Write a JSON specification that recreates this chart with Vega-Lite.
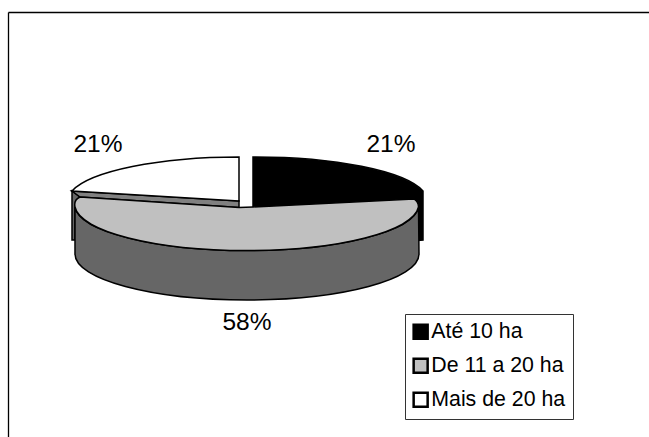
{
"$schema":"https://vega.github.io/schema/vega-lite/v6.json",
"width":641,"height":425,
"autosize":{"type":"none"},
"padding":{"left":8,"top":12,"right":0,"bottom":0},
"background":"white",
"config":{"view":{"stroke":null},"font":"Liberation Sans"},
"data":{"values":[
{"classe":"Até 10 ha","share":0.21},
{"classe":"De 11 a 20 ha","share":0.58},
{"classe":"Mais de 20 ha","share":0.21}
]},
"encoding":{
"x":{"datum":246.5,"type":"quantitative","scale":{"domain":[8,649],"nice":false,"zero":false},"axis":{"orient":"top","labels":false,"ticks":false,"grid":false,"title":null,"domainColor":"black","domainWidth":1.3}},
"y":{"datum":207,"type":"quantitative","scale":{"domain":[12,437],"reverse":true,"nice":false,"zero":false},"axis":{"orient":"left","labels":false,"ticks":false,"grid":false,"title":null,"domainColor":"black","domainWidth":1.3}}
},
"layer":[
{"transform":[{"filter":"datum.classe==='Mais de 20 ha'"}],
 "mark":{"type":"point","filled":true,"size":4,"opacity":1,"fill":"#666666","stroke":"black","strokeWidth":1.5,"shape":"M-174.5,-16 L-174.5,33 L-171.5,33 L-171.5,-1 L-166.5,-10 Z"}},
{"transform":[{"filter":"datum.classe==='Mais de 20 ha'"}],
 "mark":{"type":"point","filled":true,"size":4,"opacity":1,"fill":"#808080","stroke":"black","strokeWidth":1.5,"shape":"M-174.5,-16 L-7.5,-6 L-7.5,0.5 L-166.5,-10 Z"}},
{"transform":[{"filter":"datum.classe==='Mais de 20 ha'"}],
 "mark":{"type":"point","filled":true,"size":4,"opacity":1,"stroke":"black","strokeWidth":1.5,"shape":"M-7.5,-6 L-7.5,-50 A172,44 0 0 0 -174.5,-16 Z"},
 "encoding":{"fill":{"field":"classe","type":"nominal"}}},
{"transform":[{"filter":"datum.classe==='Até 10 ha'"}],
 "mark":{"type":"point","filled":true,"size":4,"opacity":1,"stroke":"black","strokeWidth":1.5,"shape":"M6.5,-50 A172,44 0 0 1 176.5,-16 L176.5,33 L171.5,33.5 L172,0 L167.5,-8 L6.5,0 Z"},
 "encoding":{"fill":{"field":"classe","type":"nominal"}}},
{"transform":[{"filter":"datum.classe==='De 11 a 20 ha'"}],
 "mark":{"type":"point","filled":true,"size":4,"opacity":1,"fill":"#666666","stroke":"black","strokeWidth":1.5,"shape":"M-171.5,0 A172,46 0 0 0 172,0 L172.5,47 A172,46 0 0 1 -171.5,47 Z"}},
{"transform":[{"filter":"datum.classe==='De 11 a 20 ha'"}],
 "mark":{"type":"point","filled":true,"size":4,"opacity":1,"stroke":"black","strokeWidth":1.5,"shape":"M6.5,0 L167.5,-8 Q172,-5 172,0 A172,46 0 0 1 -171.5,0 Q-173,-7 -166.5,-10 L-7.5,0.5 Z"},
 "encoding":{"fill":{"field":"classe","type":"nominal","scale":{"domain":["Até 10 ha","De 11 a 20 ha","Mais de 20 ha"],"range":["#000000","#C0C0C0","#FFFFFF"]},
  "legend":{"orient":"none","legendX":397,"legendY":302,"title":null,"symbolType":"square","symbolSize":196,"symbolOffset":-2,"symbolStrokeColor":"black","symbolOpacity":1,"labelFontSize":21.3,"labelFont":"Liberation Sans","labelColor":"black","labelLimit":300,"labelOffset":0,"rowPadding":9,"padding":7,"strokeColor":"#333333","fillColor":"white","cornerRadius":0,"values":["Até 10 ha","De 11 a 20 ha","Mais de 20 ha"],"encode":{"symbols":{"update":{"strokeWidth":{"value":2.5},"stroke":{"value":"black"}}}}}}}},
{"transform":[{"filter":"datum.classe==='Até 10 ha'"}],
 "mark":{"type":"text","fontSize":24.5,"font":"Liberation Sans","color":"black","align":"center","baseline":"middle"},
 "encoding":{"x":{"datum":391,"type":"quantitative"},"y":{"datum":145,"type":"quantitative"},"text":{"field":"share","type":"quantitative","format":".0%"}}},
{"transform":[{"filter":"datum.classe==='De 11 a 20 ha'"}],
 "mark":{"type":"text","fontSize":24.5,"font":"Liberation Sans","color":"black","align":"center","baseline":"middle"},
 "encoding":{"x":{"datum":247,"type":"quantitative"},"y":{"datum":323,"type":"quantitative"},"text":{"field":"share","type":"quantitative","format":".0%"}}},
{"transform":[{"filter":"datum.classe==='Mais de 20 ha'"}],
 "mark":{"type":"text","fontSize":24.5,"font":"Liberation Sans","color":"black","align":"center","baseline":"middle"},
 "encoding":{"x":{"datum":98,"type":"quantitative"},"y":{"datum":145,"type":"quantitative"},"text":{"field":"share","type":"quantitative","format":".0%"}}}
]
}
